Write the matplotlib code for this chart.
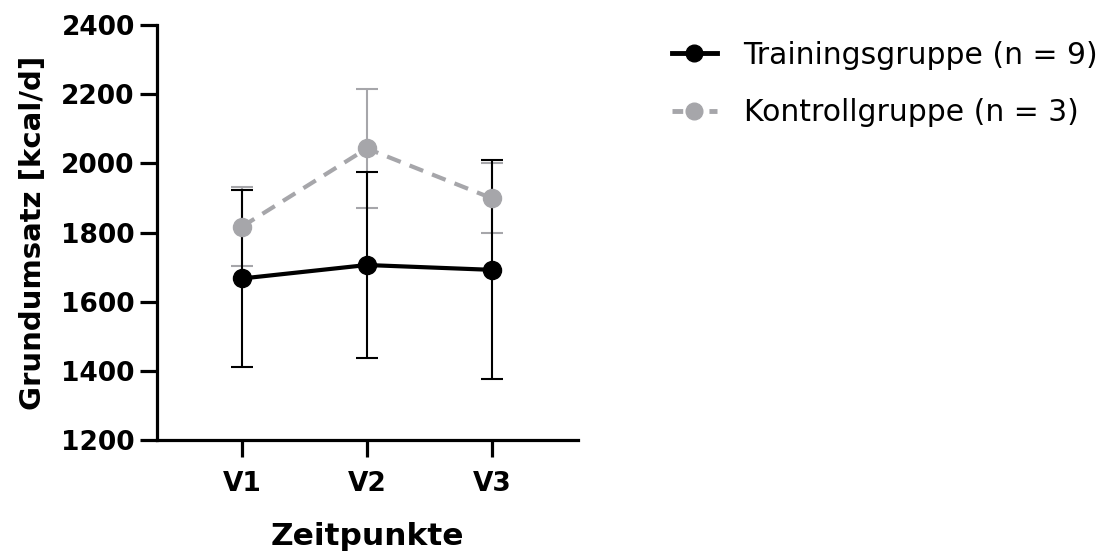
import numpy as np
import matplotlib.pyplot as plt
from matplotlib.lines import Line2D

plt.rcParams['font.family'] = ['DejaVu Sans']

# Messwerte (Mittelwert +/- SD)
zeitpunkte = ['V1', 'V2', 'V3']
training_mw = [1667, 1706, 1692]
training_sd = [255, 268, 317]
kontroll_mw = [1817, 2043, 1899]
kontroll_sd = [114, 173, 101]

x = np.arange(1, len(zeitpunkte) + 1)
grau = '#a6a6aa'
strich = (0, (3.5, 2.3))

fig = plt.figure(figsize=(11.12, 5.52), dpi=100)
ax = fig.add_axes([0.1412, 0.2029, 0.3786, 0.7518])

ax.errorbar(x, kontroll_mw, yerr=kontroll_sd, color=grau, ecolor=grau,
            linestyle=strich, linewidth=3, marker='o', markersize=13,
            elinewidth=1.5, capsize=8, capthick=1.5)
ax.errorbar(x, training_mw, yerr=training_sd, color='black', ecolor='black',
            linewidth=3, marker='o', markersize=13,
            elinewidth=1.5, capsize=8, capthick=1.5)

ax.set_xlim(0.32, 3.69)
ax.set_ylim(1200, 2400)
ax.set_yticks(np.arange(1200, 2401, 200))
ax.set_xticks(x)
ax.set_xticklabels(zeitpunkte)

for s in ['top', 'right']:
    ax.spines[s].set_visible(False)
for s in ['left', 'bottom']:
    ax.spines[s].set_linewidth(2.3)
ax.tick_params(width=2.3, length=12, labelsize=19)
ax.tick_params(axis='y', pad=4)
ax.tick_params(axis='x', pad=10)
for lab in ax.get_xticklabels() + ax.get_yticklabels():
    lab.set_fontweight('bold')

ax.set_xlabel('Zeitpunkte', fontsize=22.5, fontweight='bold', labelpad=18)
ax.set_ylabel('Grundumsatz [kcal/d]', fontsize=21, fontweight='bold', labelpad=10)

handles = [
    Line2D([], [], color='black', linewidth=3.5, marker='o', markersize=12),
    Line2D([], [], color=grau, linewidth=3.5, linestyle=(0, (2.2, 1.6)),
           marker='o', markersize=12),
]
labels = ['Trainingsgruppe (n = 9)', 'Kontrollgruppe (n = 3)']
fig.legend(handles, labels, loc='upper left', bbox_to_anchor=(0.58, 0.975),
           frameon=False, fontsize=21.5, handlelength=1.5, handletextpad=0.9,
           labelspacing=0.95)

fig.savefig('out.png', dpi=100)
